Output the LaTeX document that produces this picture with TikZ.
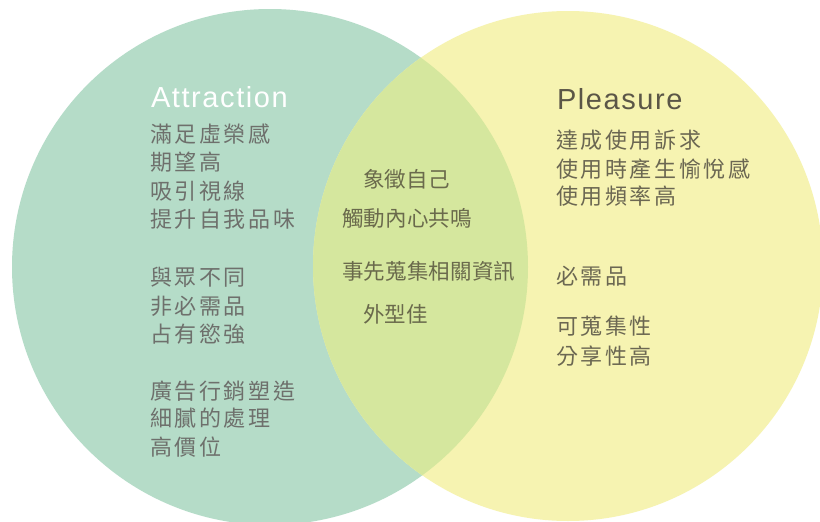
\documentclass[tikz,border=0pt]{standalone}
\usepackage{fontspec}
\setmainfont{Liberation Sans}
\newfontfamily\cjkwide[LetterSpace=12]{Noto Sans CJK TC}
\newfontfamily\cjknarrow[LetterSpace=1]{Noto Sans CJK TC}
\newfontfamily\titlefont[LetterSpace=5.5]{Liberation Sans}
\definecolor{leftfill}{HTML}{B5DCC8}
\definecolor{rightfill}{HTML}{F6F3B1}
\definecolor{overlapfill}{HTML}{D5E79E}
\definecolor{lefttext}{HTML}{6E706C}
\definecolor{midtext}{HTML}{6A6A4C}
\definecolor{righttext}{HTML}{6B6752}
\definecolor{pleasuretext}{HTML}{5B5647}
\begin{document}
\begin{tikzpicture}[x=1pt,y=-1pt,
  base/.style={anchor=west, inner sep=0pt, outer sep=0pt},
  lefttxt/.style={base, text=lefttext, font=\cjkwide\fontsize{22}{26}\selectfont},
  midtxt/.style={base, text=midtext, font=\cjknarrow\fontsize{21.5}{26}\selectfont},
  righttxt/.style={base, text=righttext, font=\cjkwide\fontsize{22}{26}\selectfont},
  titletxt/.style={base, font=\titlefont\fontsize{29}{32}\selectfont}]
\clip (0,0) rectangle (820,522);
\fill[white] (0,0) rectangle (820,522);
\fill[leftfill] (270,267) circle (258pt);
\fill[rightfill] (568,266) circle (255pt);
\begin{scope}
  \clip (270,267) circle (258pt);
  \fill[overlapfill] (568,266) circle (255pt);
\end{scope}
% titles
\node[titletxt, text=white] (attraction) at (151,97) {Attraction};
\node[titletxt, text=pleasuretext] (pleasure) at (557,99) {Pleasure};
% left column
\foreach \t/\y [count=\i] in {滿足虛榮感/134.5, 期望高/162.5, 吸引視線/191.5, 提升自我品味/219.5,
  與眾不同/277.5, 非必需品/306, 占有慾強/334,
  廣告行銷塑造/391, 細膩的處理/418.5, 高價位/447.5}
  \node[lefttxt] (left\i) at (150,\y) {\t};
% middle column
\node[midtxt] (mid1) at (363,179) {象徵自己};
\node[midtxt] (mid2) at (342,218) {觸動內心共鳴};
\node[midtxt] (mid3) at (342,271) {事先蒐集相關資訊};
\node[midtxt] (mid4) at (363,314.5) {外型佳};
% right column
\foreach \t/\y [count=\i] in {達成使用訴求/140, 使用時產生愉悅感/169, 使用頻率高/196,
  必需品/276, 可蒐集性/326, 分享性高/356}
  \node[righttxt] (right\i) at (556,\y) {\t};
\end{tikzpicture}
\end{document}
